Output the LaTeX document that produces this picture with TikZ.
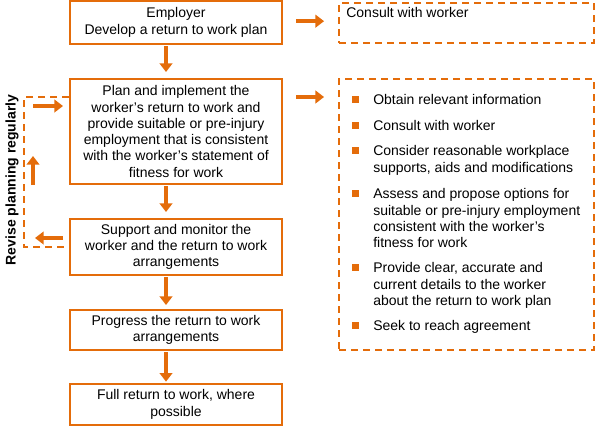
\documentclass[tikz,border=0pt]{standalone}
\usepackage{fontspec}
\setmainfont{Liberation Sans}
\usetikzlibrary{arrows.meta}

\begin{document}
\begin{tikzpicture}[x=0.75pt, y=-0.75pt, font=\fontsize{10.5}{12.2}\selectfont,
  stage/.style={draw=orng, line width=1.5pt, align=center, minimum width=159pt, inner sep=0pt},
  note/.style={draw=orng, line width=1.4pt, dash pattern=on 5.25pt off 3.75pt, minimum width=191.25pt},
  revise/.style={draw=orng, line width=1.4pt, dash pattern=on 5.25pt off 3.75pt},
  arr/.style={draw=orng, line width=3pt, -{Triangle[length=6.5pt,width=9.5pt]}},
  listitem/.style={anchor=north west, align=left, inner sep=0pt},
  sq/.style={fill=orng, minimum size=5.25pt, inner sep=0pt}]
\definecolor{orng}{HTML}{E46C0A}
\useasboundingbox (0,0) rectangle (600,430);
% main steps
\node[stage, minimum height=32.25pt] (employer) at (176,22.5) {Employer\\Develop a return to work plan};
\node[stage, minimum height=78.75pt] (plan) at (176,131.5) {Plan and implement the\\worker’s return to work and\\provide suitable or pre-injury\\employment that is consistent\\with the worker’s statement of\\fitness for work};
\node[stage, minimum height=42pt] (support) at (176,247) {Support and monitor the\\worker and the return to work\\arrangements};
\node[stage, minimum height=30pt] (progress) at (176,330) {Progress the return to work\\arrangements};
\node[stage, minimum height=30.75pt] (full) at (176,404.5) {Full return to work, where\\possible};
\draw[arr, shorten <=1pt, shorten >=4.5pt] ([xshift=-7.5pt]employer.south) -- ([xshift=-7.5pt]plan.north);
\draw[arr, shorten <=1pt, shorten >=4.5pt] ([xshift=-7.5pt]plan.south) -- ([xshift=-7.5pt]support.north);
\draw[arr, shorten <=1pt, shorten >=3pt] ([xshift=-7.5pt]support.south) -- ([xshift=-7.5pt]progress.north);
\draw[arr, shorten <=1pt, shorten >=1pt] ([xshift=-7.5pt]progress.south) -- ([xshift=-7.5pt]full.north);
% notes on the right
\node[note, minimum height=30pt] (consult) at (466.5,23) {};
\node[listitem] (consulttext) at ([xshift=6pt, yshift=-4pt]consult.north west) {Consult with worker};
\node[note, minimum height=203.25pt] (steps) at (466.5,214.5) {};
\draw[arr, shorten <=9.75pt, shorten >=10.5pt] ([yshift=1pt]employer.east) -- ([yshift=1pt]employer.east -| consult.west);
\coordinate (planout) at ([yshift=-14.25pt]plan.north east);
\draw[arr, shorten <=9.75pt, shorten >=10.5pt] (planout) -- (planout -| steps.west);
\node[listitem] (item1) at (373,94.5) {Obtain relevant information};
\node[listitem] (item2) at (373,120.5) {Consult with worker};
\node[listitem] (item3) at (373,145.5) {Consider reasonable workplace\\supports, aids and modifications};
\node[listitem] (item4) at (373,188.5) {Assess and propose options for\\suitable or pre-injury employment\\consistent with the worker’s\\fitness for work};
\node[listitem] (item5) at (373,262.5) {Provide clear, accurate and\\current details to the worker\\about the return to work plan};
\node[listitem] (item6) at (373,320.5) {Seek to reach agreement};
\node[sq] at ([xshift=-13.5pt, yshift=-4.1pt]item1.north west) {};
\node[sq] at ([xshift=-13.5pt, yshift=-4.1pt]item2.north west) {};
\node[sq] at ([xshift=-13.5pt, yshift=-4.1pt]item3.north west) {};
\node[sq] at ([xshift=-13.5pt, yshift=-4.1pt]item4.north west) {};
\node[sq] at ([xshift=-13.5pt, yshift=-4.1pt]item5.north west) {};
\node[sq] at ([xshift=-13.5pt, yshift=-4.1pt]item6.north west) {};
% revise loop on the left
\draw[revise] ([yshift=-14.25pt]plan.north west) -- ++(-45,0) |- (support.west);
\node[rotate=90, font=\fontsize{10.5}{12.2}\selectfont\bfseries] (revisetext) at (12,180) {Revise planning regularly};
\draw[arr] (33,106) -- (63,106);
\draw[arr] (33,185) -- (33,156);
\draw[arr] (63,238) -- (35,238);
\end{tikzpicture}
\end{document}
